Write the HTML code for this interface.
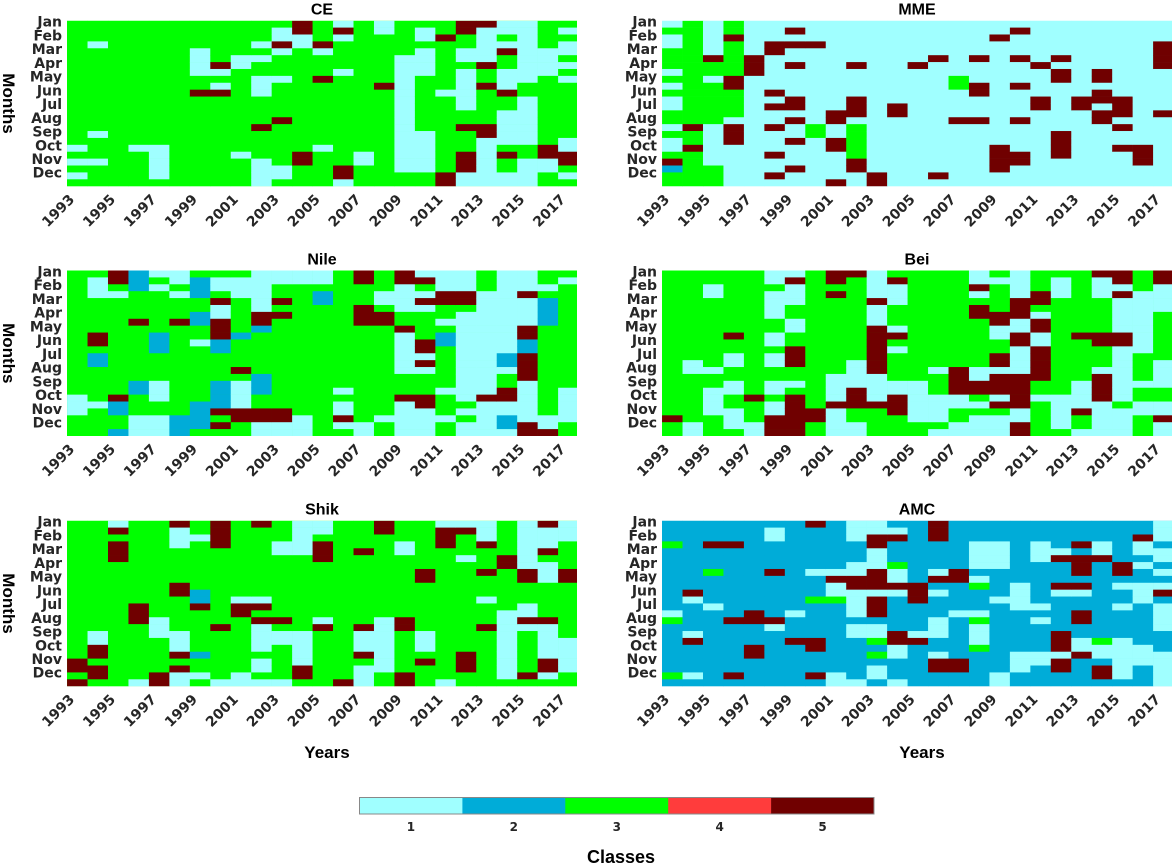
<!DOCTYPE html>
<html><head><meta charset="utf-8"><style>
html,body{margin:0;padding:0;background:#fff;}
svg{display:block;font-family:"Liberation Sans",sans-serif;}
</style></head><body>
<svg id="fig" width="1173" height="865" viewBox="0 0 1173 865"></svg>
<script>
// ---- data: per panel, one string per year column, 24 half-month rows each (class 1..5)
const years = [1993,1994,1995,1996,1997,1998,1999,2000,2001,2002,2003,2004,2005,2006,2007,2008,2009,2010,2011,2012,2013,2014,2015,2016,2017,2018];
const monthLabels = ["Jan","Feb","Mar","Apr","May","Jun","Jul","Aug","Sep","Oct","Nov","Dec"];
const classLabels = ["1","2","3","4","5"];
const classColors = ["#a0ffff","#00acd8","#00ff00","#ff3c3c","#700000"];
const panelNames = ["CE","MME","Nile","Bei","Shik","AMC"];

const ceData = ["333333333333333333131313","333133333333333313331333","333333333333333333333333","333333333333333333133333","333333333333333333111113","333333333333333333333333","333311113353333333333333","333333513153333333333333","333331133333333333313333","333131331113333533331111","311513331333335333333113","551133333333333333355333","333513335333333333133333","151333313333333333333551","333333333333333333311333","113333333533333333333333","333331111111111111111133","311311113333333311111133","335333333313333333333355","553311311111133533355511","511111533533333551111111","113153311153311111353311","111111111331111111331111","333311113333333333551133","313113131333333331155313","331313133333333331131313"];
const mmeData = ["131133313131133131135233","333333333333333533533333","111115331333333111111333","335333335533331555111111","111115551111111111111111","111551111151511511151151","151511511115515115111511","111511111111111331111111","111111111111155115511115","111111511115551333335511","111111111111111111111155","111111111111551111111111","111111511111111111111111","111115111111111111111151","111111113311115111111111","111115111551115111111111","115111111111111111555511","151115111511115111155111","111111511115511111111111","111115155111111155551111","111111111115511111111111","111111155155155111111111","111111111115551511511111","111111111111111111555111","111555511111151111111111","111111111111111115511111"];
const nileData = ["333333333333333333111333","311133333553223333313333","553133333333333333522332","222333353333333322333111","131333333222333311133111","113133353333333333333222","322233223313333333322223","311351155522333322225353","311133333233335311115533","111111552333333222335511","113353533333333333335511","113333333333333333333111","113223333333333333333333","333333333333333331311513","553335553333333333333311","333113553333333333333133","551111335111111333511111","153151333355151333551111","111553313223333331333133","111553111111111111131311","333111111111111111511111","111111111111221335511221","111511115522555511111155","331322223333333333333115","313333333333333331111133","133333333333333331113333"];
const beiData = ["333333333333333333333533","333333333333311333333311","331133333333331331111333","333333333533113311331113","333333333333333333533311","113111133113113311311555","151113311335553313555555","333333333333333333335533","553533333333333111151111","533333333333311115553311","111151115555555111153333","351113331531333311555333","333333333333333311111133","333333333333331333111131","333333333333335555113311","115135533333331155313111","313333551133551555153111","111155511551111555551155","333553155115555533133333","311133333333333333111113","333333333533333311115331","511133333553331555511111","551511111551111111131111","333111111111333313311333","551111333333311113311511","333333555533113331113331"];
const shikData = ["333333333333333333335535","333333333333333311553553","153555333333333333333333","333333333333555333333331","333333333333331113333355","511133333553333311153511","331333333322533333323313","555533333333333533333331","333333333331553333333311","533333333331535111131131","333113333333335311333331","111113333333333311111553","113555333333331533333333","333333333333333333333335","333353333333333511153111","553333333333331111111133","333113333333335533333355","333333355333333311135333","155533333333333333333331","153331333333333333355533","111533353331333533333333","333335533333311111111113","111111155333115133333353","511153111333335111115513","111333355333333331111133","111333333335333113551331"];
const amcData = ["222322222222213222222232","222222222251222215222212","222522232222122222222222","222522222222225222222252","222222222222255222552222","211222252222225122222222","222222222222212225222222","522222212223222225522252","222222215113222222222211","111222115511112112222221","115511155515552113232112","215222311512222255112221","222222222555222215222222","555222215212221112215522","222222255222212222225522","222111121322213111322222","222111122221222222222211","222222222111122222211122","222111222222121222211222","222215222512222255515522","222525552512255221152222","222115222222222223112552","222222552122122221111112","225112122111222222111222","111211212152111122211111","112222222555115555222211"];
const panelData = [ceData, mmeData, nileData, beiData, shikData, amcData];

// ---- layout
const NS = "http://www.w3.org/2000/svg";
const svg = document.getElementById("fig");
const lefts = [67, 662];
const tops = [20.7, 270.5, 520.7];
const plotW = 510, plotH = 165.5, colW = 20.46, firstTick = 10.3;
const nRows = 24;
const tickFont = '"DejaVu Sans", "Liberation Sans", sans-serif';

function mk(tag, attrs, parent) {
  const e = document.createElementNS(NS, tag);
  for (const k in attrs) e.setAttribute(k, attrs[k]);
  (parent || svg).appendChild(e);
  return e;
}
function xScale(left, colIndex) { return left + firstTick + (colIndex - 0.5) * colW; }
function yScale(top, rowIndex) { return top + rowIndex * plotH / nRows; }

panelData.forEach((data, p) => {
  const left = lefts[p % 2], top = tops[Math.floor(p / 2)];
  const g = mk("g", {});
  
  
  const clipId = "clip" + p;
  const cp = mk("clipPath", {id: clipId}, g);
  mk("rect", {x: left, y: top, width: plotW, height: plotH}, cp);
  const cells = mk("g", {"clip-path": "url(#" + clipId + ")"}, g);
  mk("rect", {x: left, y: top, width: plotW, height: plotH, fill: classColors[(+data[0][0]) - 1]}, cells);
  data.forEach((col, ci) => {
    for (let r = 0; r < nRows; r++) {
      const v = +(col.charAt(r) || col.charAt(0));
      const x0 = xScale(left, ci), y0 = yScale(top, r);
      const cell = mk("rect", {x: x0.toFixed(2), y: y0.toFixed(2), width: (colW + 0.3).toFixed(2), height: (plotH / nRows + 0.3).toFixed(2), fill: classColors[v - 1]}, cells);
      
      
    }
  });
  // title
  const t = mk("text", {x: left + plotW / 2, y: top - 6, "text-anchor": "middle", "font-size": "16", "font-weight": "bold", fill: "#000"}, g);
  t.textContent = panelNames[p];
  
  
  // month labels
  monthLabels.forEach((m, i) => {
    const ml = mk("text", {x: left - 5, y: top + 1 + i * 13.73 + 5, "text-anchor": "end", "font-size": "14", "font-weight": "bold", fill: "#262626", "font-family": tickFont}, g);
    ml.textContent = m;
    
    
  });
  // year labels
  years.forEach((yr, k) => {
    if (k % 2 !== 0 || k > 24) return;
    const tx = left + firstTick + k * colW - 2, ty = top + plotH + 14;
    const yl = mk("text", {transform: "translate(" + tx.toFixed(1) + "," + ty.toFixed(1) + ") rotate(-45)", "text-anchor": "end", "font-size": "14", "font-weight": "bold", fill: "#262626", "font-family": tickFont}, g);
    yl.textContent = yr;
    
    
  });
  if (p % 2 === 0) {
    const mo = mk("text", {transform: "translate(3," + (top + plotH / 2).toFixed(1) + ") rotate(90)", "text-anchor": "middle", "font-size": "17", "font-weight": "bold", fill: "#000"}, g);
    mo.textContent = "Months";
    
    
  }
  if (p >= 4) {
    const yx = mk("text", {x: left + 260, y: 758, "text-anchor": "middle", "font-size": "17", "font-weight": "bold", fill: "#000"}, g);
    yx.textContent = "Years";
    
    
  }
});

// ---- colorbar
const cbX = 359.5, cbY = 797.5, cbW = 514.5, cbH = 16.5;
const cb = mk("g", {});


classColors.forEach((c, i) => {
  const sw = mk("rect", {x: cbX + i * cbW / 5, y: cbY, width: cbW / 5 + 0.3, height: cbH, fill: c}, cb);
  
  
  const lb = mk("text", {x: cbX + (i + 0.5) * cbW / 5, y: 831, "text-anchor": "middle", "font-size": "12", "font-weight": "bold", fill: "#262626", "font-family": tickFont}, cb);
  lb.textContent = classLabels[i];
  
  
});
mk("rect", {x: cbX, y: cbY, width: cbW, height: cbH, fill: "none", stroke: "#888", "stroke-width": "1"}, cb);
const cl = mk("text", {x: 621, y: 863, "text-anchor": "middle", "font-size": "18", "font-weight": "bold", fill: "#000"}, cb);
cl.textContent = "Classes";


</script>
</body></html>
